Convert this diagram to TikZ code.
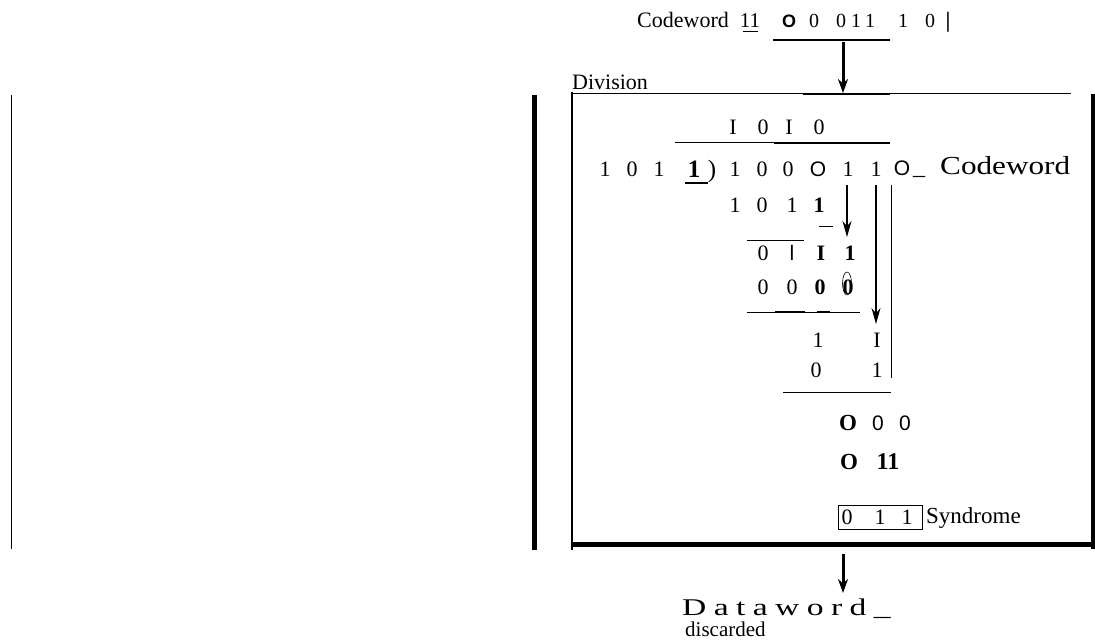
\documentclass[tikz,border=0pt]{standalone}
\usepackage{fontspec}
\setmainfont{Liberation Serif}
\setsansfont{Liberation Sans}
\newfontfamily\dwfont[LetterSpace=22]{Liberation Serif}
\usepackage{graphicx}
\usetikzlibrary{arrows.meta,shapes.geometric}
\begin{document}
\begin{tikzpicture}[x=1bp,y=-1bp,
  dg/.style={inner sep=0pt, anchor=base, font=\fontsize{22bp}{26bp}\selectfont},
  dgt/.style={dg, font=\fontsize{20bp}{24bp}\selectfont},
  dgb/.style={dg, font=\fontsize{22bp}{26bp}\selectfont\bfseries},
  dgs/.style={dg, font=\fontsize{21bp}{25bp}\selectfont\sffamily},
  lbl/.style={inner sep=0pt, anchor=base west, font=\fontsize{22bp}{26bp}\selectfont},
  rulel/.style={line width=1bp},
  heavyl/.style={line width=2.2bp},
  barl/.style={line width=5bp},
  bigarrow/.style={line width=3bp, -{Stealth[length=14bp,width=10bp]}},
  smallarrow/.style={line width=1.3bp, -{Stealth[length=16bp,width=9bp]}}]
\useasboundingbox (0,0) rectangle (1095,641);

% ---------- left rules ----------
\draw[rulel] (11,95) -- (11,549);
\draw[barl] (534.5,95) -- (534.5,550);

% ---------- top codeword ----------
\node[lbl] (cw) at (637,28) {Codeword};
\node[dgt, font=\fontsize{21bp}{24bp}\selectfont] (c11) at (750,28) {11};
\draw[rulel] (743,31.5) -- (758,31.5);
\node[dgt, font=\fontsize{18bp}{21bp}\selectfont\sffamily\bfseries] (cO) at (789,28) {O};
\node[dgt] (cz1) at (814,28) {0};
\node[dgt] (cd1) at (841,28) {0};
\node[dgt] (cd2) at (856,28) {1};
\node[dgt] (cd3) at (870,28) {1};
\node[dgt] (cd4) at (903,28) {1};
\node[dgt] (cd5) at (930,28) {0};
\node[dgt, font=\fontsize{22bp}{26bp}\selectfont\bfseries] (cbar) at (948,28) {|};
\draw[line width=1.5bp] (773,40) -- (890,40);
\coordinate (ta) at (843,42);
\coordinate (tb) at (843,93);
\draw[bigarrow] (ta) -- (tb);

% ---------- division box ----------
\node[lbl] (div) at (572,90) {Division};
\draw[rulel] (572,94) -- (1071,94);
\draw[line width=2.5bp] (803,94) -- (890,94);
\draw[line width=1.5bp] (572,92) -- (572,550);
\draw[line width=4bp] (1093,94) -- (1093,549);
\draw[barl] (572,544.5) -- (1095,544.5);

% quotient
\node[dg] (q1) at (733,135) {I};
\node[dg] (q2) at (763,135) {0};
\node[dg] (q3) at (789,135) {I};
\node[dg] (q4) at (819,135) {0};
\draw[rulel] (675,143) -- (890,143);
\draw[heavyl] (774,143) -- (890,143);

% divisor and dividend
\node[dg] (v1) at (605,177) {1};
\node[dg] (v2) at (632,177) {0};
\node[dg] (v3) at (659,177) {1};
\node[dgb, font=\fontsize{25bp}{29bp}\selectfont\bfseries] (v4) at (694,178) {1};
\node[dg, font=\fontsize{25bp}{29bp}\selectfont] (v5) at (712,178) {)};
\draw[line width=2bp] (685,183.5) -- (708,183.5);
\node[dg] (e1) at (735,177) {1};
\node[dg] (e2) at (762,177) {0};
\node[dg] (e3) at (788,177) {0};
\node[dgs] (e4) at (818,177) {O};
\node[dg] (e5) at (848,177) {1};
\node[dg] (e6) at (876,177) {1};
\node[dgs] (e7) at (902,176) {O};
\node[inner sep=0pt, anchor=base west, font=\fontsize{24bp}{28bp}\selectfont] (eus) at (913,175) {\_};
\node[inner sep=0pt, anchor=base west, font=\fontsize{26bp}{30bp}\selectfont] (ecw) at (940,175) {\scalebox{1.2}[1]{Codeword}};

% down arrows and side rule
\coordinate (a1s) at (847,185);
\coordinate (a1e) at (847,237);
\coordinate (a2s) at (876,185);
\coordinate (a2e) at (876,324);
\draw[smallarrow] (a1s) -- (a1e);
\draw[smallarrow] (a2s) -- (a2e);
\draw[rulel] (891,185) -- (891,378);

% first subtraction
\node[dg] (f1) at (735,213) {1};
\node[dg] (f2) at (762,213) {0};
\node[dg] (f3) at (792,213) {1};
\node[dgb] (f4) at (819,213) {1};
\draw[rulel] (819,227) -- (833,227);
\draw[rulel] (747,241) -- (804,241);

\node[dg] (g1) at (763,261) {0};
\node[dgs] (g2) at (792,261) {l};
\node[dgb] (g3) at (821,261) {I};
\node[dgb] (g4) at (850,261) {1};

\node[dg] (h1) at (763,295) {0};
\node[dg] (h2) at (792,295) {0};
\node[dgb] (h3) at (820,295) {0};
\node[dgb] (h4) at (848,295) {0};
\node[ellipse, draw, line width=0.6bp, minimum width=9bp, minimum height=23bp, inner sep=0pt] (h4e) at (847,283.5) {};
\draw[rulel] (747,312) -- (860,312);
\draw[heavyl] (775,312) -- (805,312);
\draw[heavyl] (817,312) -- (830,312);

\node[dg] (i1) at (818,347) {1};
\node[dg] (i2) at (877,347) {I};
\node[dg] (j1) at (816,377) {0};
\node[dg] (j2) at (877,377) {1};
\draw[rulel] (783,392) -- (891,392);

% remainders
\node[dg, font=\fontsize{23bp}{27bp}\selectfont\bfseries] (k1) at (848,430) {O};
\node[dgs, font=\fontsize{21bp}{25bp}\selectfont\sffamily] (k2) at (878,430) {0};
\node[dgs, font=\fontsize{21bp}{25bp}\selectfont\sffamily] (k3) at (905,430) {0};
\node[dg, font=\fontsize{23bp}{27bp}\selectfont\bfseries] (m1) at (849,469) {O};
\node[dg, font=\fontsize{24bp}{28bp}\selectfont\bfseries] (m2) at (888,469) {11};

% syndrome
\draw[rulel] (838,505) rectangle (922,529);
\node[dg] (s1) at (847,524) {0};
\node[dg] (s2) at (880,524) {1};
\node[dg] (s3) at (907,524) {1};
\node[lbl, font=\fontsize{23bp}{27bp}\selectfont] (syn) at (926,523) {Syndrome};

% bottom
\coordinate (ba) at (843,554);
\coordinate (bb) at (843,593);
\draw[bigarrow] (ba) -- (bb);
\node[inner sep=0pt, anchor=base west] (dw) at (682,615) {\scalebox{1.4}[1]{\fontsize{24bp}{28bp}\selectfont\dwfont Dataword\_}};
\node[lbl, font=\fontsize{21bp}{25bp}\selectfont] (disc) at (685,636) {discarded};
\end{tikzpicture}
\end{document}
